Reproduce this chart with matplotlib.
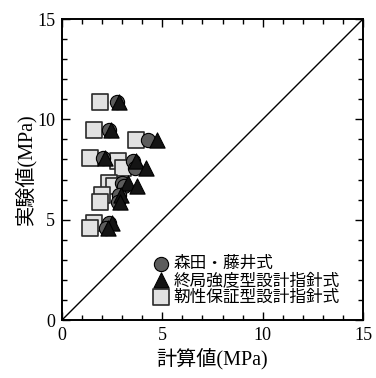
import numpy as np
import matplotlib
matplotlib.use('Agg')
import matplotlib.pyplot as plt
from matplotlib.ticker import MultipleLocator

# experimental values (MPa), one per specimen
y_exp = [10.85, 9.45, 8.95, 8.05, 7.9, 7.6, 6.85, 6.7, 6.25, 5.9, 4.85, 4.6]
# calculated values by each method
x_morita = [2.75, 2.35, 4.3, 2.05, 3.55, 3.65, 3.0, 3.1, 2.85, 2.8, 2.35, 2.2]
x_ultimate = [2.85, 2.45, 4.75, 2.15, 3.7, 4.2, 3.3, 3.75, 2.95, 2.9, 2.5, 2.3]
x_ductile = [1.9, 1.6, 3.7, 1.4, 2.8, 3.05, 2.35, 2.6, 2.0, 1.9, 1.6, 1.4]

labels = ['森田・藤井式', '終局強度型設計指針式', '靭性保証型設計指針式']
ticks = [0, 5, 10, 15]

serif = ['Liberation Serif', 'Noto Sans CJK JP']
cjk = ['Noto Sans CJK JP', 'DejaVu Sans']

fig = plt.figure(figsize=(3.76, 3.78), dpi=100)
ax = fig.add_axes([0.1649, 0.1534, 0.8005, 0.7963])

ax.plot([0, 15], [0, 15], color='black', lw=1.0, zorder=1)

h1 = ax.scatter(x_morita, y_exp, s=105, marker='o', facecolor='#5c5c5c',
                edgecolor='black', linewidth=0.8, zorder=3)
h2 = ax.scatter(x_ultimate, y_exp, s=120, marker='^', facecolor='#141414',
                edgecolor='black', linewidth=0.8, zorder=4)
h3 = ax.scatter(x_ductile, y_exp, s=125, marker='s', facecolor='#e2e2e2',
                edgecolor='#2a2a2a', linewidth=1.2, zorder=2)

ax.set_xlim(0, 15)
ax.set_ylim(0, 15)
ax.set_xticks(ticks)
ax.set_yticks(ticks)
ax.xaxis.set_minor_locator(MultipleLocator(1))
ax.yaxis.set_minor_locator(MultipleLocator(1))
ax.tick_params(which='both', direction='in', top=True, right=True, width=1.0)
ax.tick_params(which='major', length=6, labelsize=13, pad=5)
ax.tick_params(which='minor', length=3.5)
for lab in ax.get_xticklabels() + ax.get_yticklabels():
    lab.set_family(serif)
for sp in ax.spines.values():
    sp.set_linewidth(1.4)

ax.set_xlabel('計算値(MPa)', family=serif, fontsize=14.5, labelpad=3)
ax.set_ylabel('実験値(MPa)', family=serif, fontsize=14.5, labelpad=0)

leg = ax.legend([h1, h2, h3], labels, loc='lower right',
                bbox_to_anchor=(0.955, 0.015), frameon=False,
                prop={'family': cjk, 'size': 12},
                handletextpad=0.25, labelspacing=-0.02, borderpad=0.1,
                handlelength=1.0, scatterpoints=1)

fig.savefig('out.png', dpi=100)
